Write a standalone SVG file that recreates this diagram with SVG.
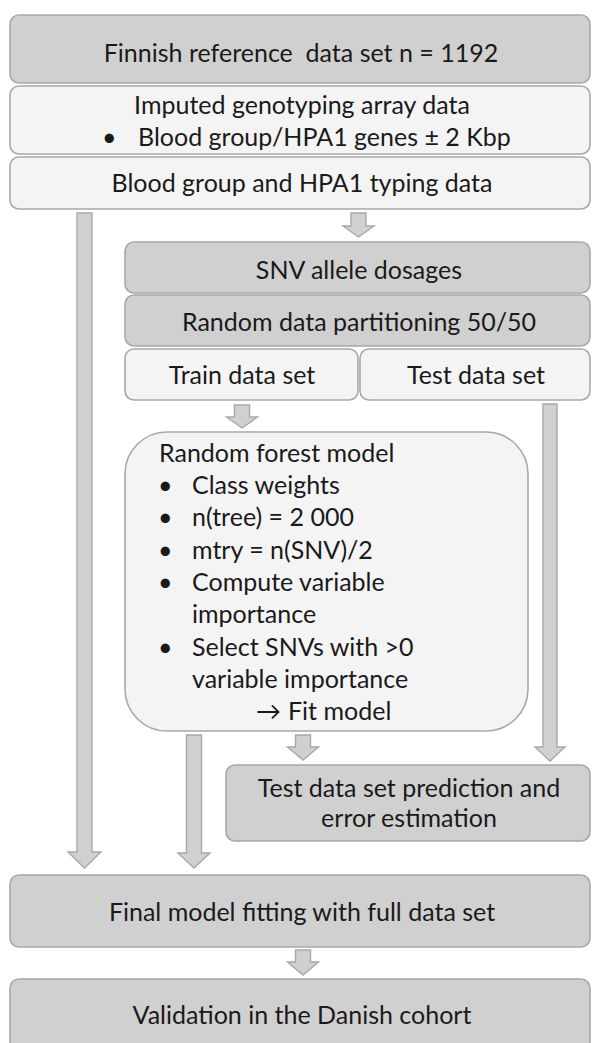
<svg xmlns="http://www.w3.org/2000/svg" width="592" height="1043" viewBox="0 0 592 1043">
<style>
.dk{fill:#d0d0d0;stroke:#a8a8a8;stroke-width:1.6}
.lt{fill:#f4f4f4;stroke:#a8a8a8;stroke-width:1.6}
.ar{fill:#d0d0d0;stroke:#a8a8a8;stroke-width:1.4;stroke-linejoin:miter}
text{font-family:Lato,"Open Sans","Liberation Sans",sans-serif;font-size:25px;fill:#1a1a1a;white-space:pre}
.c{text-anchor:middle}
</style>
<rect width="592" height="1043" fill="#ffffff"/>
<g id="connectors">
<polygon class="ar" points="77,213 92,213 92,852 101,852 84.5,868 68,852 77,852"/>
<polygon class="ar" points="351,213 366,213 366,226 374,226 358.5,237 343,226 351,226"/>
<polygon class="ar" points="234.5,405 249.5,405 249.5,417 257.5,417 242,428 226.5,417 234.5,417"/>
<polygon class="ar" points="543,404 557,404 557,747 565,747 550,761 535,747 543,747"/>
<polygon class="ar" points="186.5,735 201.5,735 201.5,853 210,853 194,868 178,853 186.5,853"/>
<polygon class="ar" points="295.5,735 310.5,735 310.5,747 318.5,747 303,760 287.5,747 295.5,747"/>
<polygon class="ar" points="295.5,950 310.5,950 310.5,962 318.5,962 303,975 287.5,962 295.5,962"/>
</g>
<g id="finnish">
<rect class="dk" x="10" y="15" width="580" height="68" rx="9"/>
<text class="c" x="301" y="62">Finnish reference  data set n = 1192</text>
</g>
<g id="imputed">
<rect class="lt" x="10" y="86" width="580" height="68" rx="9"/>
<text class="c" x="302" y="114">Imputed genotyping array data</text>
<text x="102" y="146">•</text>
<text x="138" y="146">Blood group/HPA1 genes ± 2 Kbp</text>
</g>
<g id="typing">
<rect class="lt" x="10" y="157" width="580" height="52" rx="9"/>
<text class="c" x="302" y="192">Blood group and HPA1 typing data</text>
</g>
<g id="snv">
<rect class="dk" x="125" y="242" width="465" height="51" rx="9"/>
<text class="c" x="359" y="279">SNV allele dosages</text>
</g>
<g id="partition">
<rect class="dk" x="125" y="295" width="465" height="51" rx="9"/>
<text class="c" x="359" y="331">Random data partitioning 50/50</text>
</g>
<g id="train">
<rect class="lt" x="125" y="349" width="233" height="51" rx="9"/>
<text class="c" x="242" y="384">Train data set</text>
</g>
<g id="test">
<rect class="lt" x="360" y="349" width="230" height="51" rx="9"/>
<text class="c" x="476" y="384">Test data set</text>
</g>
<g id="rf">
<rect class="lt" x="125" y="432" width="403" height="299" rx="42"/>
<text x="159" y="462">Random forest model</text>
<text x="158" y="494">•</text><text x="192" y="494">Class weights</text>
<text x="158" y="526">•</text><text x="192" y="526">n(tree) = 2 000</text>
<text x="158" y="559">•</text><text x="192" y="559">mtry = n(SNV)/2</text>
<text x="158" y="591">•</text><text x="192" y="591">Compute variable</text>
<text x="192" y="623">importance</text>
<text x="158" y="656">•</text><text x="192" y="656">Select SNVs with &gt;0</text>
<text x="192" y="688">variable importance</text>
<text x="256" y="720">→</text><text x="288" y="720">Fit model</text>
</g>
<g id="prediction">
<rect class="dk" x="226" y="765" width="364" height="76" rx="9"/>
<text class="c" x="409" y="797">Test data set prediction and</text>
<text class="c" x="409" y="827">error estimation</text>
</g>
<g id="final">
<rect class="dk" x="10" y="875" width="580" height="72" rx="9"/>
<text class="c" x="302" y="921">Final model fitting with full data set</text>
</g>
<g id="validation">
<rect class="dk" x="10" y="979" width="580" height="72" rx="9"/>
<text class="c" x="302" y="1024">Validation in the Danish cohort</text>
</g>
</svg>
